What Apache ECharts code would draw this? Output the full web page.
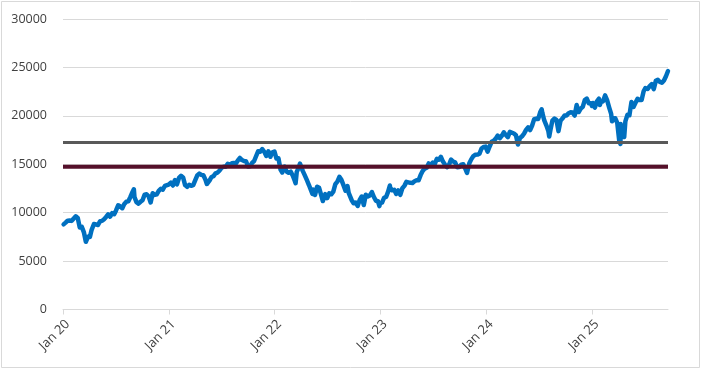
<!DOCTYPE html>
<html>
<head>
<meta charset="utf-8">
<script src="https://cdn.jsdelivr.net/npm/echarts@6/dist/echarts.min.js"></script>
<style>
html,body{margin:0;padding:0;background:#fff;}
#chart{width:701px;height:369px;}
</style>
</head>
<body>
<div id="chart"></div>
<script>
// ---- data ----
const dates = [
'2020-01-03','2020-01-10','2020-01-17','2020-01-24','2020-01-31','2020-02-07','2020-02-14','2020-02-21','2020-02-28','2020-03-06','2020-03-13','2020-03-20','2020-03-27','2020-04-03','2020-04-09','2020-04-17','2020-04-24','2020-05-01','2020-05-08','2020-05-15','2020-05-22','2020-05-29','2020-06-05','2020-06-12','2020-06-19','2020-06-26','2020-07-02','2020-07-10','2020-07-17','2020-07-24','2020-07-31','2020-08-07','2020-08-14','2020-08-21','2020-08-28','2020-09-02','2020-09-04','2020-09-11','2020-09-18','2020-09-25','2020-10-02','2020-10-09','2020-10-16','2020-10-23','2020-10-30','2020-11-06','2020-11-13','2020-11-20','2020-11-27','2020-12-04','2020-12-11','2020-12-18','2020-12-24','2020-12-31',
'2021-01-08','2021-01-15','2021-01-22','2021-01-29','2021-02-05','2021-02-12','2021-02-19','2021-02-26','2021-03-05','2021-03-12','2021-03-19','2021-03-26','2021-04-01','2021-04-09','2021-04-16','2021-04-23','2021-04-30','2021-05-07','2021-05-12','2021-05-14','2021-05-21','2021-05-28','2021-06-04','2021-06-11','2021-06-18','2021-06-25','2021-07-02','2021-07-09','2021-07-16','2021-07-23','2021-07-30','2021-08-06','2021-08-13','2021-08-20','2021-08-27','2021-09-03','2021-09-10','2021-09-17','2021-09-24','2021-10-01','2021-10-08','2021-10-15','2021-10-22','2021-10-29','2021-11-05','2021-11-12','2021-11-19','2021-11-26','2021-12-03','2021-12-10','2021-12-17','2021-12-23','2021-12-31',
'2022-01-07','2022-01-14','2022-01-21','2022-01-27','2022-01-28','2022-02-04','2022-02-11','2022-02-18','2022-02-25','2022-03-04','2022-03-11','2022-03-14','2022-03-18','2022-03-25','2022-03-29','2022-04-01','2022-04-08','2022-04-14','2022-04-22','2022-04-29','2022-05-06','2022-05-11','2022-05-13','2022-05-20','2022-05-27','2022-06-03','2022-06-10','2022-06-16','2022-06-24','2022-07-01','2022-07-08','2022-07-15','2022-07-22','2022-07-29','2022-08-05','2022-08-12','2022-08-16','2022-08-19','2022-08-26','2022-09-02','2022-09-09','2022-09-13','2022-09-16','2022-09-23','2022-09-30','2022-10-07','2022-10-14','2022-10-21','2022-10-28','2022-11-04','2022-11-11','2022-11-18','2022-11-25','2022-12-02','2022-12-09','2022-12-16','2022-12-23','2022-12-28','2022-12-30',
'2023-01-06','2023-01-13','2023-01-20','2023-01-27','2023-02-02','2023-02-03','2023-02-10','2023-02-17','2023-02-24','2023-03-03','2023-03-10','2023-03-17','2023-03-24','2023-03-31','2023-04-06','2023-04-14','2023-04-21','2023-04-28','2023-05-05','2023-05-12','2023-05-19','2023-05-26','2023-06-02','2023-06-09','2023-06-16','2023-06-23','2023-06-30','2023-07-07','2023-07-14','2023-07-21','2023-07-28','2023-08-04','2023-08-11','2023-08-18','2023-08-25','2023-09-01','2023-09-08','2023-09-15','2023-09-22','2023-09-29','2023-10-06','2023-10-13','2023-10-20','2023-10-26','2023-10-27','2023-11-03','2023-11-10','2023-11-17','2023-11-24','2023-12-01','2023-12-08','2023-12-15','2023-12-22','2023-12-29',
'2024-01-05','2024-01-12','2024-01-19','2024-01-26','2024-02-02','2024-02-09','2024-02-16','2024-02-23','2024-03-01','2024-03-08','2024-03-15','2024-03-22','2024-03-28','2024-04-05','2024-04-12','2024-04-19','2024-04-26','2024-05-03','2024-05-10','2024-05-17','2024-05-24','2024-05-31','2024-06-07','2024-06-14','2024-06-21','2024-06-28','2024-07-05','2024-07-10','2024-07-12','2024-07-19','2024-07-26','2024-08-02','2024-08-05','2024-08-09','2024-08-16','2024-08-23','2024-08-30','2024-09-06','2024-09-13','2024-09-20','2024-09-27','2024-10-04','2024-10-11','2024-10-18','2024-10-25','2024-11-01','2024-11-08','2024-11-15','2024-11-22','2024-11-29','2024-12-06','2024-12-13','2024-12-16','2024-12-20','2024-12-27','2024-12-31',
'2025-01-03','2025-01-10','2025-01-17','2025-01-24','2025-01-27','2025-01-31','2025-02-07','2025-02-14','2025-02-19','2025-02-21','2025-02-28','2025-03-07','2025-03-10','2025-03-14','2025-03-21','2025-03-28','2025-04-04','2025-04-08','2025-04-09','2025-04-11','2025-04-17','2025-04-21','2025-04-25','2025-05-02','2025-05-09','2025-05-16','2025-05-23','2025-05-30','2025-06-06','2025-06-13','2025-06-20','2025-06-27','2025-07-03','2025-07-11','2025-07-18','2025-07-25','2025-08-01','2025-08-08','2025-08-15','2025-08-22','2025-08-29','2025-09-05','2025-09-12','2025-09-19'
];
const values = [
8793,8972,9174,9187,9151,9401,9623,9447,8462,8530,7995,6994,7502,7487,8230,8832,8784,8718,9121,9152,9325,9555,9824,9588,9946,9850,10208,10768,10643,10462,10905,11139,11186,11625,12110,12420,11622,11088,10937,11127,11291,11853,11898,11694,11052,12012,11829,11893,12258,12465,12378,12756,12805,12888,
13105,12804,13367,12925,13588,13808,13640,12843,12669,12880,12777,12839,13281,13846,14041,13903,13861,13413,12962,13114,13302,13687,13774,14069,14141,14361,14640,14754,14743,15038,14959,15098,15125,15077,15398,15652,15430,15332,15314,14758,14780,15147,15335,15850,16344,16295,16573,16293,15856,16331,15771,16213,16320,
15591,15612,14439,14150,14596,14765,14253,14121,14238,13838,13301,13046,14217,14685,15066,14838,14289,13898,13357,12855,12317,11945,12387,11835,12681,12571,11831,11200,11917,11503,11992,11896,12171,12947,13206,13696,13727,13387,12842,12271,12736,12048,11861,11311,10971,11040,10693,11319,11669,10786,11847,11677,11780,12129,11618,11229,11180,10679,10939,
11040,11541,11623,12167,12803,12573,12304,12358,11931,12302,11830,12520,12767,13181,13063,13079,13072,13246,13341,13340,13881,14298,14547,14642,15083,14891,15179,15036,15565,15462,15757,15274,14969,14695,14942,15492,15283,15202,14701,14715,14963,15001,14542,14110,14180,15099,15529,15848,15983,15997,16085,16623,16776,16826,
16306,16832,17314,17421,17642,17963,17686,17937,18302,18019,17808,18340,18254,18177,18003,17037,17718,17891,18161,18546,18808,18536,19000,19659,19700,19683,20392,20675,20332,19523,19023,18440,17867,18513,19509,19721,19575,18421,19492,19736,20044,20033,20272,20361,20352,20033,21118,20394,20744,20930,21622,21780,21950,21289,21300,21012,
21326,20847,21505,21774,21127,21478,21491,22114,22175,21614,20884,20201,19431,19704,19753,19281,17398,17090,19145,18690,18258,17808,19432,20102,20061,21427,20915,21341,21761,21631,21626,22534,22867,22780,23066,23272,22763,23611,23713,23499,23415,23653,24092,24626
];
const levelValues = [17250, 14750];       // grey, maroon
const levelColors = ['#595959', '#55102A'];
const yearLabels = ['Jan 20','Jan 21','Jan 22','Jan 23','Jan 24','Jan 25'];

// convert a date to years since 1 Jan 2020 (Jan 1 of each year lands on an integer)
function toX(s) {
  const d = Date.UTC(+s.slice(0,4), +s.slice(5,7)-1, +s.slice(8,10));
  const y = +s.slice(0,4);
  const a = Date.UTC(y,0,1), b = Date.UTC(y+1,0,1);
  return (y - 2020) + (d - a) / (b - a);
}
const seriesData = dates.map((d,i) => [toX(d), values[i]]);
const xMax = seriesData[seriesData.length-1][0];
const tickVals = yearLabels.map((_,i) => i);

const chart = echarts.init(document.getElementById('chart'), null, {renderer:'canvas'});
chart.setOption({
  animation: false,
  backgroundColor: '#fff',
  textStyle: {fontFamily: '"Open Sans", sans-serif'},
  grid: {left: 63, right: 33, top: 19, bottom: 59.5},
  xAxis: {
    type: 'value', min: 0, max: xMax, interval: 1,
    axisLine: {show: true, lineStyle: {color: '#D9D9D9', width: 1}},
    axisTick: {show: true, length: 5, customValues: tickVals, lineStyle: {color: '#D9D9D9'}},
    axisLabel: {
      customValues: tickVals, rotate: 45, margin: 8,
      align: 'right', verticalAlign: 'top',
      fontSize: 13, color: '#404040', fontFamily: '"Open Sans", sans-serif',
      formatter: v => yearLabels[Math.round(v)] || ''
    },
    splitLine: {show: false}
  },
  yAxis: {
    type: 'value', min: 0, max: 30000, interval: 5000,
    axisLine: {show: false}, axisTick: {show: false},
    axisLabel: {margin: 16, fontSize: 12.5, color: '#404040', fontFamily: '"Open Sans", sans-serif',
      formatter: v => String(v)},
    splitLine: {lineStyle: {color: '#D9D9D9', width: 1}}
  },
  graphic: [{
    type: 'rect', silent: true, z: 100,
    shape: {x: 1.5, y: 1.5, width: 698, height: 366},
    style: {fill: 'none', stroke: '#D9D9D9', lineWidth: 1}
  }],
  series: [
    {
      type: 'line', data: seriesData, showSymbol: false, symbol: 'none',
      lineStyle: {color: '#0070C0', width: 4.5, join: 'round', cap: 'round'},
      z: 2
    }
  ].concat(levelValues.map((v,i) => ({
      type: 'line', data: [[0, v], [xMax, v]], showSymbol: false, symbol: 'none',
      lineStyle: {color: levelColors[i], width: i === 0 ? 3 : 4},
      z: 3
  })))
});
</script>
</body>
</html>
